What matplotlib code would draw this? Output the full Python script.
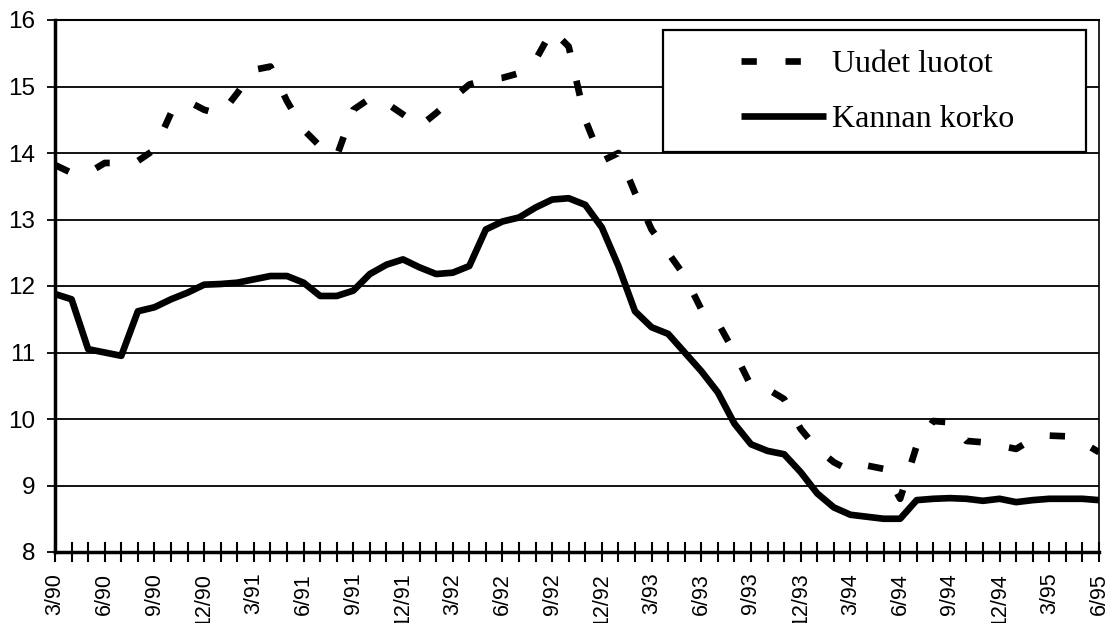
import matplotlib
matplotlib.use("Agg")
import matplotlib.pyplot as plt
from matplotlib.patches import Rectangle
import numpy as np

# ---- data (monthly, 3/90 .. 6/95) ----
uudet_luotot = [13.82, 13.70, 13.70, 13.85, 13.85, 13.88, 14.05, 14.60, 14.78, 14.65,
                14.58, 14.90, 15.25, 15.30, 14.78, 14.35, 14.10, 13.95, 14.65, 14.82,
                14.75, 14.58, 14.40, 14.60, 14.82, 15.03, 15.10, 15.13, 15.20, 15.40,
                15.85, 15.60, 14.50, 13.88, 14.00, 13.40, 12.85, 12.50, 12.15, 11.65,
                11.45, 11.00, 10.50, 10.45, 10.30, 9.85, 9.55, 9.35, 9.22, 9.30,
                9.25, 8.80, 9.60, 9.97, 9.95, 9.67, 9.65, 9.60, 9.55, 9.70,
                9.75, 9.74, 9.65, 9.50]
kannan_korko = [11.88, 11.80, 11.05, 11.00, 10.95, 11.62, 11.68, 11.80, 11.90, 12.02,
                12.03, 12.05, 12.10, 12.15, 12.15, 12.05, 11.85, 11.85, 11.93, 12.18,
                12.32, 12.40, 12.28, 12.18, 12.20, 12.30, 12.85, 12.97, 13.03, 13.18,
                13.30, 13.32, 13.22, 12.88, 12.30, 11.62, 11.38, 11.28, 11.00, 10.72,
                10.40, 9.93, 9.62, 9.52, 9.47, 9.20, 8.88, 8.67, 8.56, 8.53,
                8.50, 8.50, 8.78, 8.80, 8.81, 8.80, 8.77, 8.80, 8.75, 8.78,
                8.80, 8.80, 8.80, 8.78]
tick_labels = ["3/90", "6/90", "9/90", "12/90", "3/91", "6/91", "9/91", "12/91",
               "3/92", "6/92", "9/92", "12/92", "3/93", "6/93", "9/93", "12/93",
               "3/94", "6/94", "9/94", "12/94", "3/95", "6/95"]
series_names = ["Uudet luotot", "Kannan korko"]

plt.rcParams["font.family"] = ["Liberation Sans", "DejaVu Sans"]

x = np.arange(len(kannan_korko))

fig = plt.figure(figsize=(11.08, 6.23), dpi=100)
ax = fig.add_axes([55/1108, 71/623, 1044/1108, 532/623])

ax.plot(x, uudet_luotot, color="black", lw=4.8, linestyle=(0, (2.3, 4.3)),
        dash_capstyle="butt", label=series_names[0], zorder=3)
ax.plot(x, kannan_korko, color="black", lw=4.8, solid_joinstyle="round",
        solid_capstyle="butt", label=series_names[1], zorder=3)

ax.set_xlim(0, len(x) - 1)
ax.set_ylim(8, 16)
ax.set_yticks(np.arange(8, 17, 1))
ax.yaxis.grid(True, color="black", lw=1.3)
ax.set_axisbelow(True)

ax.set_xticks(x, minor=True)
ax.set_xticks(x[::3])
ax.set_xticklabels(tick_labels, rotation=90)
ax.tick_params(axis="x", which="both", direction="inout", length=14, width=1.5,
               pad=8, labelsize=15.5)
ax.tick_params(axis="y", direction="out", length=6, width=1.3, pad=8,
               labelsize=17.5)

for s in ["left", "bottom"]:
    ax.spines[s].set_linewidth(2.5)
ax.spines["top"].set_linewidth(1.5)
ax.spines["right"].set_linewidth(1.2)

# legend frame + legend
ax.add_patch(Rectangle((0.582, 0.752), 0.406, 0.229, transform=ax.transAxes,
                       facecolor="white", edgecolor="black", lw=1.6, zorder=4))
leg = ax.legend(loc="upper left", bbox_to_anchor=(0.657, 0.944), frameon=False,
                borderaxespad=0, borderpad=0, handlelength=2.66, handletextpad=0.19,
                labelspacing=0.8, prop={"family": "Liberation Serif", "size": 23})
leg.set_zorder(5)

fig.savefig("out.png", dpi=100)
